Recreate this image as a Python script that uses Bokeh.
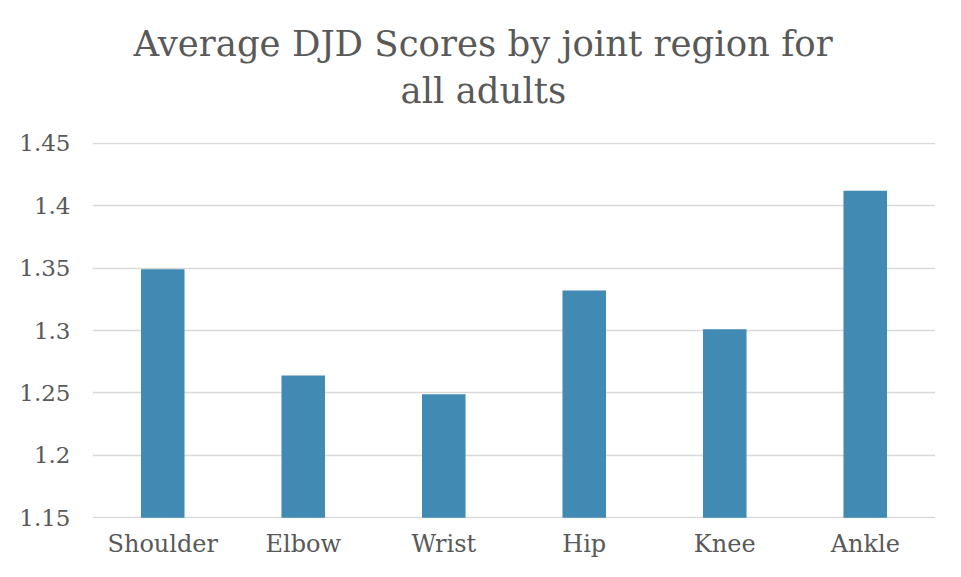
from bokeh.plotting import figure
from bokeh.models import Range1d, FixedTicker, NumeralTickFormatter, Title
from bokeh.embed import file_html
from bokeh.resources import INLINE

# Data
regions = ["Shoulder", "Elbow", "Wrist", "Hip", "Knee", "Ankle"]
scores = [1.349, 1.264, 1.249, 1.332, 1.301, 1.412]
y_ticks = [1.15, 1.2, 1.25, 1.3, 1.35, 1.4, 1.45]
title_line1 = "Average DJD Scores by joint region for"
title_line2 = "all adults"

TEXT = "#595959"
FONT = "DejaVu Serif"

p = figure(
    x_range=regions,
    y_range=Range1d(1.1494, 1.4506),
    width=945, height=569,
    output_backend="svg",
    toolbar_location=None,
    min_border_left=92, min_border_right=10,
    min_border_top=142, min_border_bottom=51,
)

p.vbar(x=regions, top=scores, bottom=1.15, width=0.31,
       fill_color="#418AB3", line_color=None)

p.outline_line_color = None
p.background_fill_color = "white"
p.border_fill_color = "white"

p.xgrid.grid_line_color = None
p.ygrid.grid_line_color = "#d9d9d9"
p.ygrid.grid_line_width = 1.3

p.yaxis.ticker = FixedTicker(ticks=y_ticks)
p.yaxis.formatter = NumeralTickFormatter(format="0.[00]")

for ax in (p.xaxis, p.yaxis):
    ax.axis_line_color = None
    ax.major_tick_line_color = None
    ax.minor_tick_line_color = None
    ax.major_tick_in = 0
    ax.major_tick_out = 0
    ax.major_label_text_font = FONT
    ax.major_label_text_color = TEXT

p.yaxis.major_label_text_font_size = "23px"
p.xaxis.major_label_text_font_size = "24px"
p.yaxis.major_label_standoff = 22
p.xaxis.major_label_standoff = 11

# title: second line added first (closest to the plot area)
p.add_layout(Title(text=title_line2, align="left", offset=308,
                   text_font=FONT, text_font_size="35.5px",
                   text_font_style="normal", text_color=TEXT,
                   text_line_height=0.6,
                   standoff=64), "above")
p.add_layout(Title(text=title_line1, align="left", offset=41,
                   text_font=FONT, text_font_size="35.5px",
                   text_font_style="normal", text_color=TEXT,
                   standoff=-56), "above")

open("out.html", "w").write(file_html(p, INLINE))
